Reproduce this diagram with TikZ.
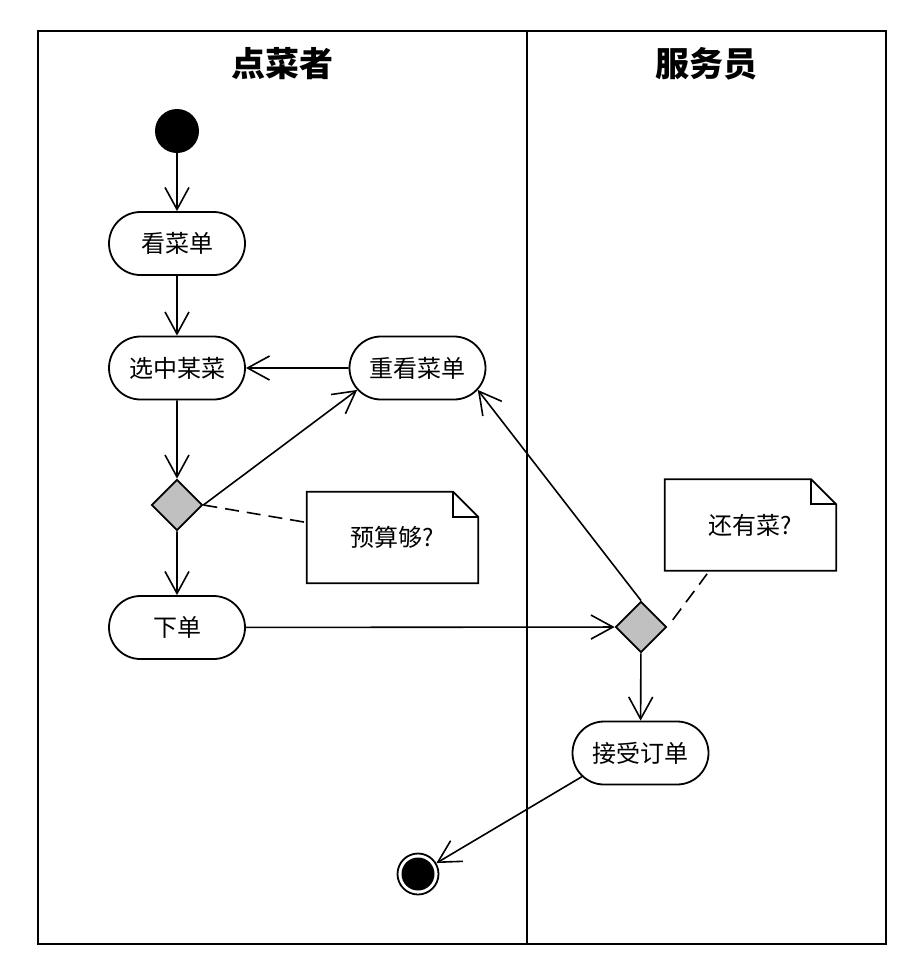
\documentclass[tikz,border=0pt]{standalone}
\usepackage{fontspec}
\newfontfamily\cjk{Noto Sans CJK SC}
\usetikzlibrary{arrows.meta,shapes.misc,shapes.geometric}
\definecolor{decgray}{HTML}{C0C0C0}
\begin{document}
\begin{tikzpicture}[x=1pt,y=-1pt,
  lane/.style={line width=2pt},
  act/.style={rounded rectangle, draw, line width=1.8pt, fill=white,
    minimum width=136pt, minimum height=63pt, inner sep=0pt,
    font={\cjk\fontsize{24pt}{28pt}\selectfont}},
  dec/.style={diamond, draw, fill=decgray, line width=1.8pt,
    minimum width=51pt, minimum height=51pt, inner sep=0pt},
  notebox/.style={rectangle, minimum width=171pt, minimum height=91pt,
    inner sep=0pt, font={\cjk\fontsize{24pt}{28pt}\selectfont}},
  noteline/.style={line width=1.8pt},
  title/.style={font={\cjk\bfseries\fontsize{34pt}{40pt}\selectfont}},
  arr/.style={line width=1.6pt, -{Straight Barb[length=22pt,width=24pt,line width=1.6pt]}},
  dashline/.style={line width=1.6pt, dash pattern=on 14pt off 8pt}
]
\useasboundingbox (0,0) rectangle (913,967);
% swimlanes
\coordinate (fTL) at (38,31);
\coordinate (fBR) at (886,944);
\coordinate (dTop) at (527,31);
\coordinate (dBot) at (527,944);
\draw[lane] (fTL) rectangle (fBR);
\draw[lane] (dTop) -- (dBot);
\node[title] (t1) at (282,64) {点菜者};
\node[title] (t2) at (706,64) {服务员};
% nodes
\node[circle, fill=black, minimum size=44pt, inner sep=0pt] (start) at (177,131) {};
\node[act] (look) at (177,243.5) {看菜单};
\node[act] (choose) at (177,368) {选中某菜};
\node[act] (redo) at (417.5,368) {重看菜单};
\node[dec] (d1) at (177,505) {};
\node[act] (order) at (177,627.5) {下单};
\node[dec] (d2) at (641,627) {};
\node[act] (accept) at (640.5,753) {接受订单};
\node[circle, draw, line width=1.8pt, fill=white, minimum size=41pt, inner sep=0pt] (endn) at (418,874) {};
\node[circle, fill=black, minimum size=33pt, inner sep=0pt] (endin) at (endn.center) {};
% notes
\node[notebox] (n1) at (392.5,537.5) {预算够?};
\draw[noteline] (n1.south west) -- (n1.north west) -- ([xshift=-25pt]n1.north east)
  -- ([yshift=-25pt]n1.north east) -- (n1.south east) -- cycle;
\draw[noteline] ([xshift=-25pt]n1.north east) |- ([yshift=-25pt]n1.north east);
\node[notebox] (n2) at (750.5,525) {还有菜?};
\draw[noteline] (n2.south west) -- (n2.north west) -- ([xshift=-25pt]n2.north east)
  -- ([yshift=-25pt]n2.north east) -- (n2.south east) -- cycle;
\draw[noteline] ([xshift=-25pt]n2.north east) |- ([yshift=-25pt]n2.north east);
% connectors
\draw[arr] (start) -- (look);
\draw[arr] (look) -- (choose);
\draw[arr] (redo) -- (choose);
\draw[arr] (choose) -- (d1);
\draw[arr] (d1.east) -- (redo.200);
\draw[arr] (d1) -- (order);
\draw[arr] (order) -- (d2);
\draw[arr] (d2.north) -- (redo.340);
\draw[arr] (d2) -- (accept);
\draw[arr] (accept.202) -- (endn);
\draw[dashline] (d1.east) -- ([yshift=15pt]n1.west);
\draw[dashline, shorten <=9pt, shorten >=4pt] (d2.east) -- ([xshift=-41pt]n2.south);
\end{tikzpicture}
\end{document}
